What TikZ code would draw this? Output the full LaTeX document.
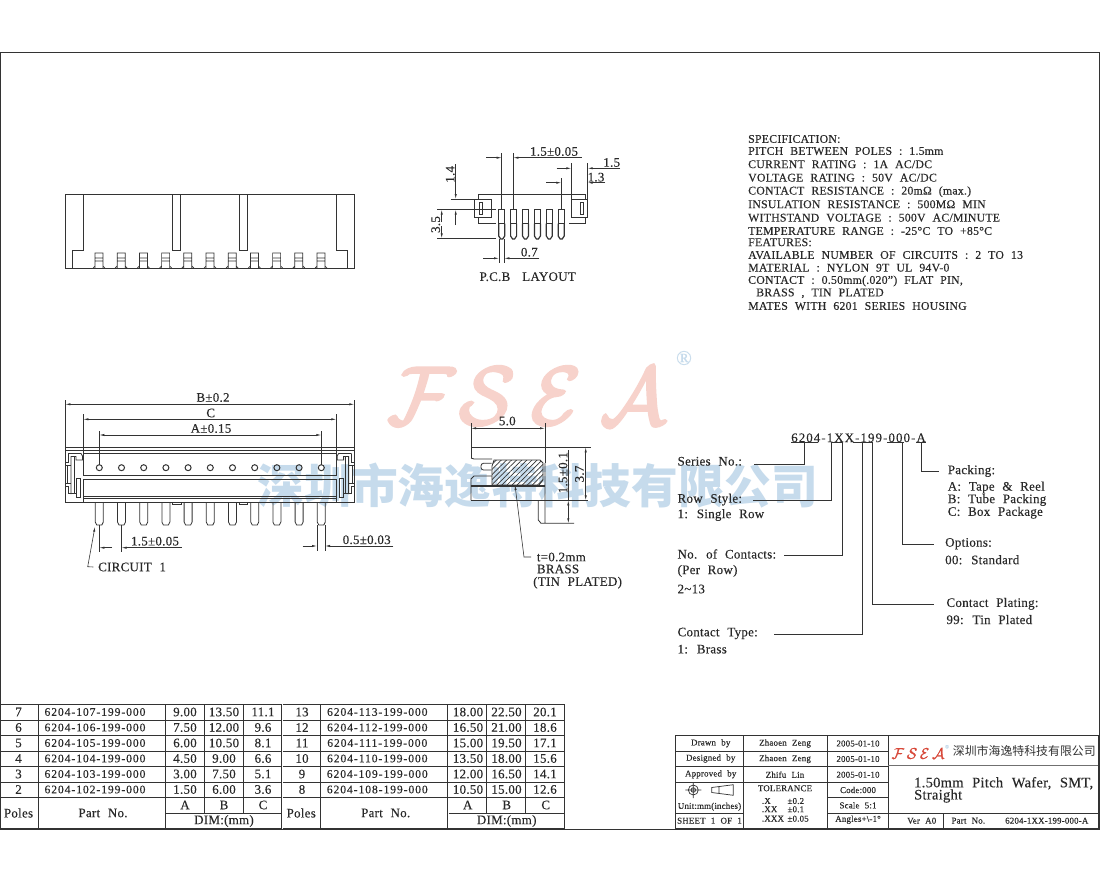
\documentclass[tikz,border=0pt]{standalone}
\usepackage{fontspec}
\setmainfont{Liberation Serif}[LetterSpace=2,WordSpace=2.2,FakeBold=0.2]
\newfontfamily\partfont{Liberation Serif}[LetterSpace=8,WordSpace=2.2,FakeBold=0.2]
\newfontfamily\cjk{Noto Sans CJK SC}
\usetikzlibrary{arrows.meta,patterns.meta}
\definecolor{ink}{HTML}{333333}
\definecolor{wmblue}{HTML}{C6DBEC}
\definecolor{wmpink}{HTML}{F7D2CB}
\definecolor{logored}{HTML}{D8493A}
\newcommand\heavycal[2]{\special{pdf:code 2 Tr #1 w}$\mathcal{#2}$\special{pdf:code 0 Tr}}
\tikzset{
  lbl/.style={font=\fontsize{13}{14}\selectfont,inner sep=0pt,text=ink!80!black},
  lft/.style={lbl,anchor=west},
  spec/.style={lft,font=\fontsize{11.8}{13}\selectfont},
  partno/.style={lbl,font=\partfont\fontsize{11.6}{12}\selectfont},
  tiny/.style={lbl,font=\fontsize{8.9}{10}\selectfont},
  tip/.style={-{Latex[length=5pt,width=2.2pt]},line width=0.6pt},
  part/.style={line width=0.8pt,ink},
  thin line/.style={line width=0.6pt,ink}
}
\begin{document}
\begin{tikzpicture}[x=1pt,y=-1pt]
\useasboundingbox (0,0) rectangle (1100,880);
\fill[white] (0,0) rectangle (1100,880);
\node[inner sep=0pt,text=wmpink,scale=8.2] (bigF) at (421,396) {\heavycal{0.35}{F}};
\node[inner sep=0pt,text=wmpink,scale=8.2] (bigS) at (487,396) {\heavycal{0.35}{S}};
\node[inner sep=0pt,text=wmpink,scale=8.2] (bigE) at (556,396) {\heavycal{0.35}{E}};
\node[inner sep=0pt,text=wmpink,scale=8.2] (bigA) at (633,396) {\heavycal{0.35}{A}};
\node[inner sep=0pt,text=wmblue,font=\fontsize{21}{21}\selectfont] (bigR) at (684,358) {®};
\node[inner sep=0pt,text=wmblue,font=\cjk\bfseries\fontsize{46.7}{47}\selectfont] (wmark) at (538,486) {深圳市海逸特科技有限公司};

\draw[line width=1pt,ink] (0.5,53) rectangle (1099.5,829);

\draw[part] (65.3,194) rectangle (354.3,268.3);
\draw[part] (83.3,194) -- (83.3,250) -- (72.7,250) -- (72.7,268.3);
\draw[part] (336.3,194) -- (336.3,250) -- (347,250) -- (347,268.3);
\draw[part] (172.7,194) -- (172.7,250) -- (180.3,250) -- (180.3,194);
\draw[part] (239.3,194) -- (239.3,250) -- (247.3,250) -- (247.3,194);
\foreach \i in {0,...,10} {
  \pgfmathsetmacro\c{99+22.2*\i}
  \draw[shift={(\c,0)},line width=0.7pt,ink] (-4,268) -- (-4,253) -- (4,253) -- (4,268) (-4,258) -- (4,258) (-4,261) -- (4,261) (-4,266) -- (-6,268) (4,266) -- (6,268);
}

\draw[part] (478.3,199) -- (478.3,194) -- (585,194) -- (585,199);
\draw[part] (474.3,199) rectangle (491.7,217.3);
\draw[part] (571.3,199) rectangle (587.7,217.3);
\draw[part] (479.3,202) rectangle (482.7,214.7);
\draw[part] (580,202) rectangle (583.3,214.7);
\draw[part] (478.3,217.3) -- (478.3,223.7) -- (496,223.7);
\draw[part] (585,217.3) -- (585,223.7) -- (569.3,223.7);
\foreach \i in {0,...,5} {
  \pgfmathsetmacro\c{501.7+11.9*\i}
  \draw[shift={(\c,0)},line width=0.7pt,ink] (-3,223.7) -- (-3,209.7) -- (3,209.7) -- (3,223.7) -- cycle;
  \draw[shift={(\c,0)},line width=1.2pt,ink] (-3,223.7) -- (-3,236) -- (-1,239) -- (1,239) -- (3,236) -- (3,223.7);
}
\draw[thin line] (501.7,153) -- (501.7,209.7) (513.3,153) -- (513.3,209.7);
\draw[tip,ink] (486,157.7) -- (501.7,157.7);
\draw[tip,ink] (581.7,157.7) -- (513.3,157.7);
\node[lbl] (pitchtop) at (554,151.5) {1.5±0.05};
\draw[thin line] (571.3,163) -- (571.3,199) (587.7,163) -- (587.7,199) (561.3,178) -- (561.3,209.7);
\draw[tip,ink] (556.7,168.3) -- (571.3,168.3);
\draw[tip,ink] (620,168.3) -- (587.7,168.3);
\node[lbl] (widthtop) at (611.7,162.5) {1.5};
\draw[tip,ink] (546,182.7) -- (561.3,182.7);
\draw[tip,ink] (605,182.7) -- (587.7,182.7);
\node[lbl] (widthlow) at (596,177.2) {1.3};
\draw[thin line] (450.7,199) -- (478.3,199) (437.3,209.7) -- (496,209.7) (437.3,238.3) -- (496,238.3);
\draw[tip,ink] (455.7,164.3) -- (455.7,199);
\draw[tip,ink] (455.7,225) -- (455.7,209.7);
\node[lbl,rotate=90] (padtop) at (450.2,174.3) {1.4};
\draw[tip,ink] (441.7,222) -- (441.7,209.7);
\draw[tip,ink] (441.7,226) -- (441.7,238.3);
\node[lbl,rotate=90] (padlow) at (435.7,224.5) {3.5};
\draw[thin line] (499,239) -- (499,263.3) (504.3,239) -- (504.3,263.3);
\draw[tip,ink] (483.3,258.3) -- (499,258.3);
\draw[tip,ink] (539.3,258.3) -- (504.3,258.3);
\node[lbl] (padwidth) at (529.3,252.2) {0.7};
\node[lbl] (pcblabel) at (527.7,276.7) {P.C.B\hspace{12pt}LAYOUT};

\foreach \i/\t/\y in {0/SPECIFICATION:/139,1/PITCH BETWEEN POLES : 1.5mm/151,2/{CURRENT RATING : 1A AC/DC}/164.3,3/{VOLTAGE RATING : 50V AC/DC}/177.7,4/CONTACT RESISTANCE : 20mΩ (max.)/191.7,5/INSULATION RESISTANCE : 500MΩ MIN/204.3,6/{WITHSTAND VOLTAGE : 500V AC/MINUTE}/217.7,7/TEMPERATURE RANGE : -25°C TO +85°C/231,8/FEATURES:/242.3,9/AVAILABLE NUMBER OF CIRCUITS : 2 TO 13/255,10/MATERIAL : NYLON 9T UL 94V-0/267.7,11/{CONTACT : 0.50mm(.020'') FLAT PIN,}/281,13/MATES WITH 6201 SERIES HOUSING/306}
  \node[spec] (spec\i) at (748,\y) {\t};
\node[spec] (spec12) at (756,293.3) {BRASS , TIN PLATED};

\draw[part] (65.3,447.3) rectangle (354.3,502.3);
\foreach \y in {450,453.3,475.7,479,496.7,498.5} \draw[part] (83.3,\y) -- (336.3,\y);
\draw[part] (65.3,450) -- (354.3,450);
\foreach \m/\o in {1/0,-1/419.6} {
  \begin{scope}[shift={(\o,0)},xscale=\m,line width=0.8pt,ink]
  \draw (83.3,450) -- (83.3,476) (83.3,479) -- (83.3,502.3);
  \draw (68,453.5) -- (81,453.5) -- (82.5,456) -- (82.5,460) -- (76,460) -- (76,456.5) -- (71,456.5) -- (71,494);
  \draw (65.3,462) -- (68,462) -- (68,453.5);
  \draw (74.5,456.5) -- (74.5,493.5);
  \draw (65.3,465) -- (71,465) (67.3,465) -- (67.3,483) (65.3,483) -- (71,483);
  \draw (65.3,486) -- (68,486) -- (68,493.5) -- (76.7,493.5);
  \draw (76.7,497) -- (76.7,478) -- (80.7,478) -- (80.7,497) -- cycle;
  \end{scope}
}
\foreach \i in {0,...,10} {
  \pgfmathsetmacro\c{99.3+22.2*\i}
  \draw[shift={(\c,0)},line width=1pt,ink] (0,467.7) circle (3);
  \draw[shift={(\c,0)},line width=0.8pt,ink] (-4,502.3) -- (-4,522) -- (-2.5,525) -- (2.5,525) -- (4,522) -- (4,502.3);
}
\draw[part] (172,502.3) rectangle (181,504) (239,502.3) rectangle (247,504);
\draw[thin line] (65.3,400) -- (65.3,447.3) (354.3,400) -- (354.3,447.3);
\draw[tip,ink] (210,404.3) -- (65.3,404.3);
\draw[tip,ink] (210,404.3) -- (354.3,404.3);
\node[lbl] (dimB) at (213,397.5) {B±0.2};
\draw[thin line] (83.3,414.3) -- (83.3,450) (336.3,414.3) -- (336.3,450);
\draw[tip,ink] (210,419.3) -- (83.3,419.3);
\draw[tip,ink] (210,419.3) -- (336.3,419.3);
\node[lbl] (dimC) at (210.7,413) {C};
\draw[thin line] (99.3,431) -- (99.3,464.5) (321.3,431) -- (321.3,464.5);
\draw[tip,ink] (210,435) -- (99.3,435);
\draw[tip,ink] (210,435) -- (321.3,435);
\node[lbl] (dimA) at (211,428.5) {A±0.15};
\draw[thin line] (99.3,525) -- (99.3,551.7) (121.5,525) -- (121.5,551.7);
\draw[tip,ink] (112,547.7) -- (99.3,547.7);
\draw[tip,ink] (181.7,547.7) -- (121.5,547.7);
\node[lbl] (pitchfront) at (155,541.2) {1.5±0.05};
\draw[thin line] (317,525) -- (317,551) (325,525) -- (325,551);
\draw[tip,ink] (302.7,546) -- (317,546);
\draw[tip,ink] (393.3,546) -- (325,546);
\node[lbl] (pinwidth) at (366.7,539.8) {0.5±0.03};
\coordinate (circuitknee) at (87.7,566.7);
\coordinate (circuittail) at (93.3,567);
\node[lft] (circuit) at (98,567) {CIRCUIT 1};
\draw[tip,ink] (circuittail) -- (circuitknee) -- (95,526.7);

\draw[part] (471,458) -- (471,447.3) -- (545,447.3) -- (545,463);
\draw[part] (471,458) -- (474,459) -- (492,459);
\draw[part,rounded corners=2.5pt] (491.7,463.3) -- (481,463.3) -- (481,470) -- (491.7,470);
\draw[part,pattern={Lines[angle=45,distance=3.6pt,line width=0.7pt]},pattern color=ink] (494,460) -- (540,460) -- (543,463) -- (543,480) -- (539,485) -- (492,485) -- (492,466) -- cycle;
\draw[part] (492,476) -- (474,476) -- (471,479) -- (471,500.3);
\draw[part] (471,485) -- (545,485) (471,486.5) -- (545,486.5) (471,500.3) -- (545,500.3);
\draw[part] (545,463) -- (545,523.3) (538.3,500.3) -- (538.3,520) -- (541,523.3) -- (574,523.3);
\draw[thin line] (545,447.3) -- (590.7,447.3) (545,500.3) -- (588.3,500.3) (471,423.3) -- (471,447.3) (545,423.3) -- (545,447.3);
\draw[tip,ink] (508,428.3) -- (471,428.3);
\draw[tip,ink] (508,428.3) -- (545,428.3);
\node[lbl] (sidewidth) at (507.3,421) {5.0};
\draw[tip,ink] (585.7,474) -- (585.7,447.3);
\draw[tip,ink] (585.7,474) -- (585.7,500.3);
\node[lbl,rotate=90] (sidetotal) at (579.5,474) {3.7};
\draw[thin line] (568.3,450) -- (568.3,500.3);
\draw[tip,ink] (568.3,512) -- (568.3,500.3);
\draw[tip,ink] (568.3,512) -- (568.3,523.3);
\node[lbl,rotate=90] (sidepin) at (563,472.7) {1.5±0.1};
\node[lft] (matthick) at (536.7,557) {t=0.2mm};
\node[lft] (matbrass) at (536.7,569) {BRASS};
\node[lft] (matplate) at (533,582.7) {(TIN PLATED)};
\coordinate (matknee) at (524,557);
\coordinate (mattail) at (531,557);
\draw[tip,ink] (mattail) -- (matknee) -- (515,485);

\node[partno,anchor=west,font=\partfont\fontsize{13}{14}\selectfont] (code) at (791,437.8) {6204-1XX-199-000-A};
\foreach \a/\b in {791/818,831/842,853/873,887/904,916/926} \draw[thin line] (\a,441.8) -- (\b,441.8);
\node[lft] (series) at (677.4,461.3) {Series No.:};
\node[lft] (rowstyle) at (677.4,499.6) {Row Style:};
\node[lft] (rowval) at (677.4,515) {1: Single Row};
\node[lft] (contacts) at (677.4,554) {No. of Contacts:};
\node[lft] (perrow) at (677.4,570.9) {(Per Row)};
\node[lft] (range) at (677.4,589) {2\textasciitilde 13};
\node[lft] (ctype) at (677.4,633.4) {Contact Type:};
\node[lft] (brass) at (677.4,649.2) {1: Brass};
\node[lft] (plating) at (946.3,603.8) {Contact Plating:};
\node[lft] (tin) at (946.3,619.6) {99: Tin Plated};
\node[lft] (options) at (945,543.7) {Options:};
\node[lft] (standard) at (945,559.8) {00: Standard};
\node[lft] (packing) at (947.6,471) {Packing:};
\node[lft] (tape) at (947.6,487.5) {A: Tape \& Reel};
\node[lft] (tube) at (947.6,500) {B: Tube Packing};
\node[lft] (box) at (947.6,512.7) {C: Box Package};
\draw[part] (804.8,441.8) |- (754,464.7);
\draw[part] (831.7,441.8) |- (753.4,500.6);
\draw[part] (842,441.8) |- (783.6,555.4);
\draw[part] (862.3,441.8) |- (774.2,634.4);
\draw[part] (872.7,441.8) |- (933.9,604.5);
\draw[part] (902.6,441.8) |- (934.2,544.7);
\draw[part] (921.4,441.8) |- (938.9,471.7);

\foreach \o in {0,282.7} {
  \begin{scope}[shift={(\o,0)},line width=0.9pt,ink]
  \draw (0,704) -- (281.6,704);
  \foreach \y in {720,735.5,751,766.5,782,797.5,828.5} \draw (0,\y) -- (281.6,\y);
  \draw (166,813) -- (281.6,813);
  \draw (38,704) -- (38,828.5) (165,704) -- (165,828.5) (204,704) -- (204,813) (243,704) -- (243,813) (281.6,704) -- (281.6,828.5);
  \end{scope}
}
\foreach \r/\p/\n/\a/\b/\c in {0/7/107/9.00/13.50/11.1,1/6/106/7.50/12.00/9.6,2/5/105/6.00/10.50/8.1,3/4/104/4.50/9.00/6.6,4/3/103/3.00/7.50/5.1,5/2/102/1.50/6.00/3.6} {
  \pgfmathsetmacro\y{712+15.5*\r}
  \node[lbl] (lpole\r) at (18.5,\y) {\p};
  \node[partno] (lpart\r) at (95,\y) {6204-\n-199-000};
  \node[lbl] (la\r) at (185,\y) {\a};
  \node[lbl] (lb\r) at (224,\y) {\b};
  \node[lbl] (lc\r) at (263,\y) {\c};
}
\foreach \r/\p/\n/\a/\b/\c in {0/13/113/18.00/22.50/20.1,1/12/112/16.50/21.00/18.6,2/11/111/15.00/19.50/17.1,3/10/110/13.50/18.00/15.6,4/9/109/12.00/16.50/14.1,5/8/108/10.50/15.00/12.6} {
  \pgfmathsetmacro\y{712+15.5*\r}
  \node[lbl] (rpole\r) at (302,\y) {\p};
  \node[partno] (rpart\r) at (377.3,\y) {6204-\n-199-000};
  \node[lbl] (ra\r) at (468,\y) {\a};
  \node[lbl] (rb\r) at (506.5,\y) {\b};
  \node[lbl] (rc\r) at (545,\y) {\c};
}
\foreach \o/\s in {0/l,282.7/r} {
  \node[lbl] (\s poles) at (\o+18.5,813) {Poles};
  \node[lbl] (\s part) at (\o+103,813) {Part No.};
  \node[lbl] (\s hA) at (\o+185,805) {A};
  \node[lbl] (\s hB) at (\o+224,805) {B};
  \node[lbl] (\s hC) at (\o+263,805) {C};
  \node[lbl] (\s dim) at (\o+224,821) {DIM:(mm)};
}

\draw[line width=0.9pt,ink] (675.7,735) rectangle (1098,828.5);
\foreach \y in {751,766.7,782.3} \draw[line width=0.9pt,ink] (675.7,\y) -- (888.3,\y);
\draw[line width=0.9pt,ink] (675.7,813) -- (743.3,813) (827.3,797.7) -- (888.3,797.7) (827.3,813) -- (888.3,813);
\draw[line width=0.9pt,ink] (743.3,735) -- (743.3,828.5) (827.3,735) -- (827.3,828.5) (888.3,735) -- (888.3,828.5);
\draw[line width=1.4pt,ink!70] (888.3,765.7) -- (1098,765.7);
\draw[line width=0.9pt,ink] (888.3,813.3) -- (1098,813.3) (943.3,813.3) -- (943.3,828.5);
\foreach \x/\l/\t/\y in {710.7/drawn/Drawn  by/743.3,710.7/designed/Designed by/758.5,710.7/approved/Approved by/774.3,785/namea/Zhaoen Zeng/743.5,785/nameb/Zhaoen Zeng/759,785/namec/Zhifu Lin/774.7,858/datea/2005-01-10/743.5,858/dateb/2005-01-10/759,858/datec/2005-01-10/774.7,858/codeno/Code:000/790,858/scaleno/Scale 5:1/805.3,858/angles/Angles+\textbackslash-1°/819.7,709.5/unit/Unit:mm(inches)/806.7,709.5/sheet/SHEET 1 OF 1/820.7,785/tol/TOLERANCE/788.3,921.7/ver/Ver A0/820.7}
  \node[tiny] (\l) at (\x,\y) {\t};
\draw[line width=0.7pt,ink] (693.3,790) circle (5) (693.3,790) circle (2.3) (685.3,790) -- (701.3,790) (693.3,782) -- (693.3,798) (711.7,787.5) -- (733.3,784.7) -- (733.3,795.3) -- (711.7,792.5) -- cycle (719,786.5) -- (719,793.5);
\foreach \l/\a/\b/\y in {tx/.X/±0.2/801,txx/.XX/±0.1/809.3,txxx/.XXX/±0.05/818.7} {
  \node[tiny,anchor=west] (\l a) at (761.7,\y) {\a};
  \node[tiny,anchor=west] (\l b) at (787.3,\y) {\b};
}
\node[tiny,anchor=west] (partlabel) at (951.3,820.7) {Part No.};
\node[tiny,anchor=west] (partcode) at (1005,820.7) {6204-1XX-199-000-A};
\node[inner sep=0pt,text=logored,scale=1.55] (logo) at (918,753.5) {\heavycal{0.15}{F\,S\,E\,A}};
\node[inner sep=0pt,text=wmblue,font=\fontsize{5}{5}\selectfont] (logor) at (947,746.7) {®};
\node[inner sep=0pt,text=ink,font=\cjk\fontsize{11.9}{12}\selectfont,anchor=west] (logotext) at (952.7,751) {深圳市海逸特科技有限公司};
\node[lft,font=\fontsize{14.5}{15}\selectfont] (titlea) at (914,783.3) {1.50mm Pitch Wafer, SMT,};
\node[lft,font=\fontsize{14.5}{15}\selectfont] (titleb) at (914,796) {Straight};
\end{tikzpicture}
\end{document}
